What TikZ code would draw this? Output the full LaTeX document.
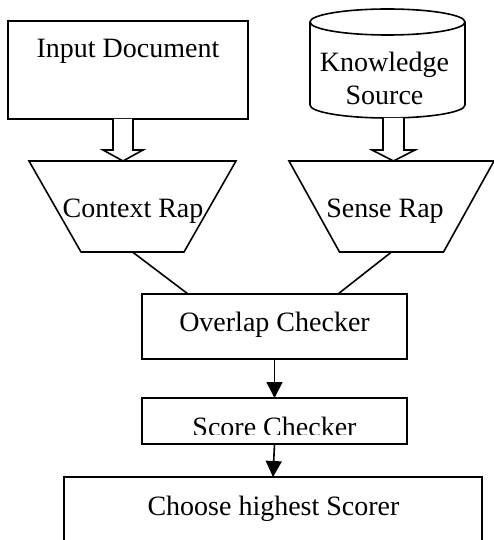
\documentclass[tikz,border=0pt]{standalone}
\usepackage{fontspec}
\setmainfont{Liberation Serif}
\usetikzlibrary{arrows.meta,calc}
% hollow block arrow: #1 tail point, #2 tip point, #3 shaft half width, #4 head half width
\newcommand\hollowarrow[4]{%
  \draw[hollow] ($(#1)+(-#3,0)$) -- ($(#2)+(-#3,-11)$) -- ($(#2)+(-#4,-11)$)
    -- (#2) -- ($(#2)+(#4,-11)$) -- ($(#2)+(#3,-11)$) -- ($(#1)+(#3,0)$);}
% funnel outline inside the frame of node #1, bottom edge inset by #2 on each side
\newcommand\funnel[2]{%
  \draw[link,line join=miter] (#1.north west) -- (#1.north east)
    -- ($(#1.south east)+(-#2,0)$) -- ($(#1.south west)+(#2,0)$) -- cycle;}
\begin{document}
\begin{tikzpicture}[x=1pt,y=-1pt,
  box/.style={draw,line width=1.8pt,rectangle,inner sep=0pt,outer sep=0pt},
  frame/.style={rectangle,inner sep=0pt,outer sep=0pt},
  lbl/.style={font=\fontsize{28}{33}\selectfont,inner sep=0pt,anchor=base},
  flow/.style={line width=1.6pt,-{Triangle[width=16pt,length=16pt]}},
  link/.style={line width=1.6pt},
  hollow/.style={draw,line width=1.6pt,fill=white,line join=miter},
  drum/.style={line width=1.6pt}]
\useasboundingbox (0,0) rectangle (494,540);

% input document
\node[box,minimum width=240pt,minimum height=98pt] (input) at (128,70) {};
\node[lbl] (inputtxt) at (128,58) {Input Document};

% knowledge source drum
\node[frame,minimum width=155pt,minimum height=109pt] (ks) at (387.5,63.5) {};
\draw[drum,fill=white] (310,22) -- (310,105) arc[start angle=180,end angle=0,x radius=77.5,y radius=13] -- (465,22);
\draw[drum,fill=white] (387.5,22) ellipse[x radius=77.5,y radius=13];
\node[lbl] (kstxt1) at (384.5,72) {Knowledge};
\node[lbl] (kstxt2) at (384.5,105) {Source};

% funnels
\node[frame,minimum width=207pt,minimum height=91pt] (ctx) at (132.5,206.5) {};
\funnel{ctx}{52}
\node[lbl] (ctxtxt) at (133,217) {Context Rap};
\node[frame,minimum width=205pt,minimum height=91pt] (sense) at (391.5,206.5) {};
\funnel{sense}{50.5}
\node[lbl] (sensetxt) at (385,217) {Sense Rap};

% block arrows into the funnels
\coordinate (ltail) at ($(input.south)+(-5,0)$);
\hollowarrow{ltail}{ltail |- ctx.north}{10}{20}
\coordinate (rtail) at ($(ks.south)+(6,0)$);
\hollowarrow{rtail}{rtail |- sense.north}{10.5}{21.5}

% checkers
\node[box,minimum width=265pt,minimum height=65pt] (overlap) at (274.5,326.5) {};
\node[lbl] (overlaptxt) at (274.5,331) {Overlap Checker};
\node[box,minimum width=265pt,minimum height=46pt] (score) at (274.5,421) {};
\begin{scope}
  \clip (142,398) rectangle (407,434.5);
  \node[lbl] (scoretxt) at (274.5,436.5) {Score Checker};
\end{scope}
\node[box,minimum width=418pt,minimum height=100pt,anchor=north] (choose) at (273,477) {};
\node[lbl] (choosetxt) at (273.5,515) {Choose highest Scorer};

% connectors
\draw[link] (ctx.south) -- ($(overlap.north west)+(46,0)$);
\draw[link] (sense.south) -- ($(overlap.north east)+(-69,0)$);
\draw[flow] (overlap.south) -- (score.north);
\draw[flow] (score.south) -- (choose.north);
\end{tikzpicture}
\end{document}
